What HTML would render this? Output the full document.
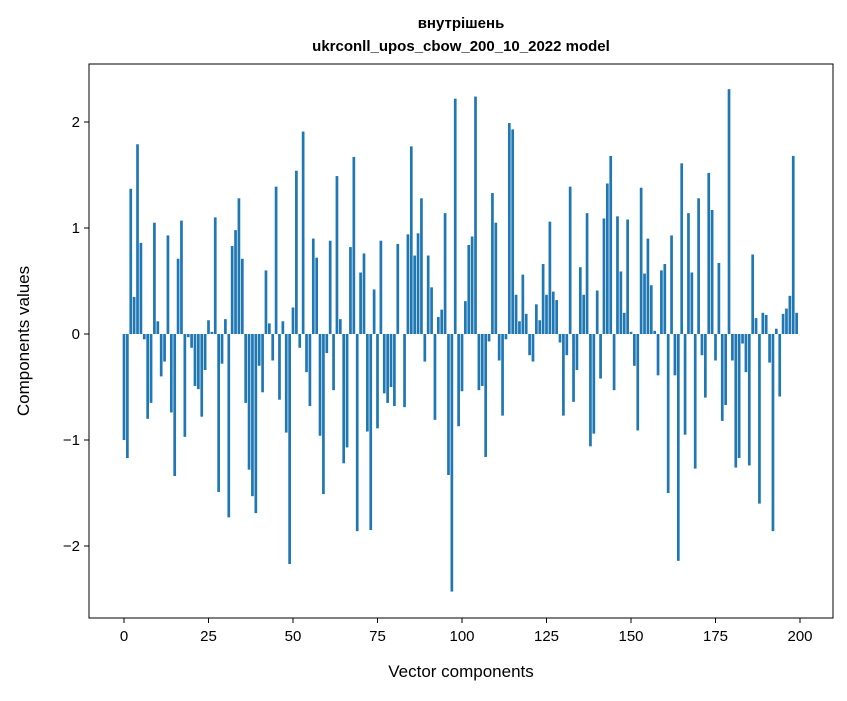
<!DOCTYPE html>
<html><head><meta charset="utf-8"><style>
body{margin:0;background:#fff;}
svg text{font-family:"Liberation Sans","DejaVu Sans",sans-serif;}
</style></head><body>
<svg id="chart" width="847" height="696" xmlns="http://www.w3.org/2000/svg">
<rect width="847" height="696" fill="#fff"/>
<text x="461" y="28" text-anchor="middle" font-size="15" font-weight="bold">внутрішень</text>
<text x="461" y="51" text-anchor="middle" font-size="15" font-weight="bold">ukrconll_upos_cbow_200_10_2022 model</text>
<g id="bars"></g>
<g id="axes"></g>
<rect x="89" y="64" width="744" height="554" fill="none" stroke="#000" stroke-width="1"/>
<text x="461" y="677" text-anchor="middle" font-size="17">Vector components</text>
<text x="0" y="0" transform="translate(29,341) rotate(-90)" text-anchor="middle" font-size="17">Components values</text>
</svg>
<script>
const values = [-1.0,-1.17,1.37,0.35,1.79,0.86,-0.05,-0.8,-0.65,1.05,
0.12,-0.4,-0.26,0.93,-0.74,-1.34,0.71,1.07,-0.97,-0.03,
-0.13,-0.49,-0.52,-0.78,-0.34,0.13,0.02,1.1,-1.49,-0.28,
0.14,-1.73,0.83,0.98,1.28,0.71,-0.65,-1.28,-1.53,-1.69,
-0.3,-0.55,0.6,0.1,-0.25,1.39,-0.62,0.12,-0.93,-2.17,
0.25,1.54,-0.13,1.91,-0.36,-0.68,0.9,0.72,-0.96,-1.51,
-0.18,0.88,-0.53,1.49,0.14,-1.22,-1.07,0.82,1.67,-1.86,
0.58,0.76,-0.92,-1.85,0.42,-0.89,0.88,-0.56,-0.65,-0.5,
-0.68,0.85,0.0,-0.69,0.94,1.77,0.74,0.95,1.28,-0.26,
0.74,0.44,-0.81,0.16,0.23,1.14,-1.33,-2.43,2.22,-0.87,
-0.54,0.31,0.84,0.92,2.24,-0.53,-0.49,-1.16,-0.07,1.33,
1.05,-0.25,-0.77,-0.05,1.99,1.93,0.37,0.12,0.56,0.19,
-0.2,-0.26,0.28,0.13,0.66,0.37,1.06,0.4,0.32,-0.08,
-0.77,-0.2,1.39,-0.64,-0.34,0.63,0.37,1.14,-1.06,-0.94,
0.41,-0.42,1.09,1.42,1.68,-0.53,1.11,0.59,0.2,1.08,
0.02,-0.3,-0.91,1.38,0.57,0.9,0.46,0.03,-0.39,0.6,
0.66,-1.5,0.93,-0.39,-2.14,1.61,-0.95,1.14,0.58,-1.27,
1.28,-0.2,-0.6,1.52,1.17,-0.25,0.67,-0.82,-0.67,2.31,
-0.25,-1.26,-1.17,-0.09,-0.36,-1.24,0.75,0.15,-1.6,0.2,
0.18,-0.27,-1.86,0.05,-0.59,0.19,0.24,0.36,1.68,0.2];
const xTicks = [0,25,50,75,100,125,150,175,200];
const yTicks = [-2,-1,0,1,2];
const yTickLabels = ["\u22122","\u22121","0","1","2"];

const NS="http://www.w3.org/2000/svg";
function xs(v){return 124+(v)*3.38;}
function ys(v){return 334-v*106;}
const barsG=document.getElementById('bars');
values.forEach((v,i)=>{
  const r=document.createElementNS(NS,'rect');
  const x0=xs(i-0.4), x1=xs(i+0.4);
  const y0=Math.min(ys(v),ys(0)), h=Math.abs(ys(v)-ys(0));
  r.setAttribute('x',x0);r.setAttribute('width',x1-x0);
  r.setAttribute('y',y0);r.setAttribute('height',h);
  r.setAttribute('fill','#1f77b4');
  
  
  barsG.appendChild(r);
});
const axG=document.getElementById('axes');
xTicks.forEach(t=>{
  const l=document.createElementNS(NS,'line');
  l.setAttribute('x1',xs(t));l.setAttribute('x2',xs(t));
  l.setAttribute('y1',618);l.setAttribute('y2',623);
  l.setAttribute('stroke','#000');
  
  
  axG.appendChild(l);
  const tx=document.createElementNS(NS,'text');
  tx.setAttribute('x',xs(t));tx.setAttribute('y',641);
  tx.setAttribute('text-anchor','middle');tx.setAttribute('font-size','15');
  tx.textContent=t;
  
  
  axG.appendChild(tx);
});
yTicks.forEach((t,i)=>{
  const l=document.createElementNS(NS,'line');
  l.setAttribute('x1',84);l.setAttribute('x2',89);
  l.setAttribute('y1',ys(t));l.setAttribute('y2',ys(t));
  l.setAttribute('stroke','#000');
  
  
  axG.appendChild(l);
  const tx=document.createElementNS(NS,'text');
  tx.setAttribute('x',80);tx.setAttribute('y',ys(t)+5);
  tx.setAttribute('text-anchor','end');tx.setAttribute('font-size','15');
  tx.textContent=yTickLabels[i];
  
  
  axG.appendChild(tx);
});
</script>
</body></html>
